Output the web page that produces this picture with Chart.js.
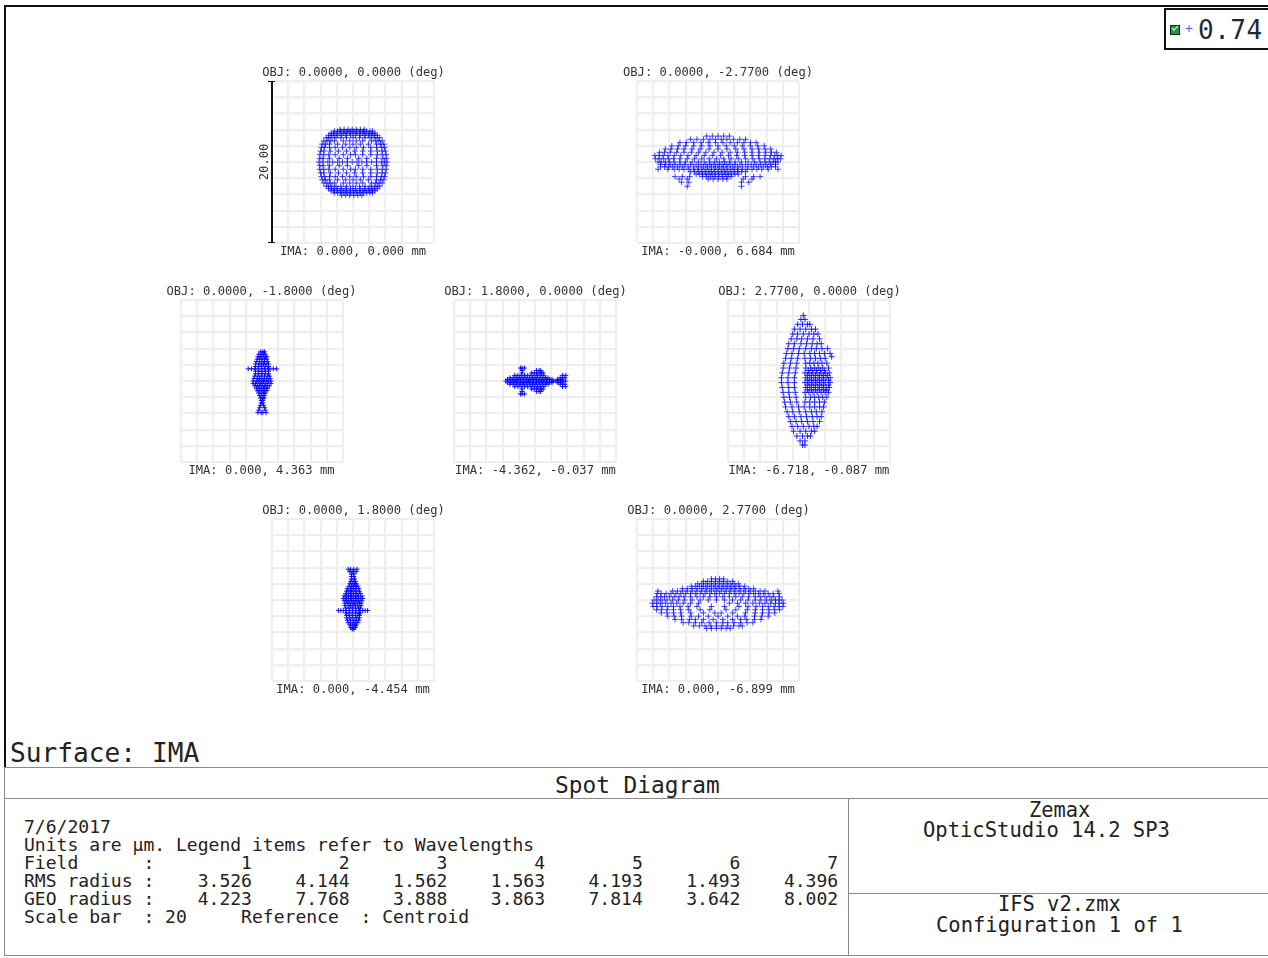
<!DOCTYPE html>
<html><head><meta charset="utf-8">
<script src="https://cdn.jsdelivr.net/npm/chart.js@4"></script>
<style>
html,body{margin:0;padding:0;background:#fff;width:1268px;height:958px;overflow:hidden}
body{position:relative;font-family:"DejaVu Sans Mono",monospace;color:#222}
canvas{position:absolute;filter:blur(.45px)}
.t{position:absolute;white-space:pre;line-height:.9}
.lab{font-size:12.15px;color:#333;transform:translateX(-50%)}
.ln{position:absolute;background:#8a8a8a}
.blk{position:absolute;background:#111}
</style></head><body>
<script>
// Hand-read estimates in micrometres, one row per y: [y, x, x, ...].
// Individual rays are not resolvable in the picture; rows follow each spot's outline and density.
const fieldTitles=["OBJ: 0.0000, 0.0000 (deg)","OBJ: 0.0000, -2.7700 (deg)","OBJ: 0.0000, -1.8000 (deg)","OBJ: 1.8000, 0.0000 (deg)","OBJ: 2.7700, 0.0000 (deg)","OBJ: 0.0000, 1.8000 (deg)","OBJ: 0.0000, 2.7700 (deg)"];
const imageLabels=["IMA: 0.000, 0.000 mm","IMA: -0.000, 6.684 mm","IMA: 0.000, 4.363 mm","IMA: -4.362, -0.037 mm","IMA: -6.718, -0.087 mm","IMA: 0.000, -4.454 mm","IMA: 0.000, -6.899 mm"];
const fieldNumbers=[1,2,3,4,5,6,7];
const rmsRadius=["3.526","4.144","1.562","1.563","4.193","1.493","4.396"];
const geoRadius=["4.223","7.768","3.888","3.863","7.814","3.642","8.002"];

const spot1=[
[4.0,-1.6,-1.1,-.6,-.1,.4,.9,1.4],
[3.8,-2.3,-1.9,-1.5,-1.1,-.7,-.3,.1,.5,.9,1.3,1.7,2.1,2.4],
[3.55,-2.7,-2.4,-2,-1.6,-1.2,-.8,-.4,0,.4,.8,1.2,1.6,2,2.4,2.7],
[3.3,-3,-2.7,-2.3,-1.9,-1.4,-.9,-.3,.3,.9,1.4,1.9,2.3,2.7,3],
[3,-3.3,-3,-2.6,-2.1,-1.5,-.8,0,.8,1.5,2.1,2.6,3,3.3],
[2.6,-3.6,-3.2,-2.8,-2.3,-1.2,-.4,.4,1.2,2.3,2.8,3.2,3.6],
[2.2,-3.8,-3.4,-2.9,-1.9,-.9,0,.9,1.9,2.9,3.4,3.8],
[1.8,-3.9,-3.5,-2.9,-2.2,-1.3,-.4,.4,1.3,2.2,2.9,3.5,3.9],
[1.35,-4,-3.6,-2.8,-1.8,-.8,.2,1.2,2.2,3,3.6,4],
[.9,-4.1,-3.6,-3,-2.2,-1.2,-.3,.3,1.2,2.2,3,3.6,4.1],
[.45,-4.1,-3.7,-2.9,-1.7,-.7,.7,1.7,2.9,3.7,4.1],
[0,-4.2,-3.7,-3.1,-2.5,-1.9,-1.3,-.7,-.1,.5,1.1,1.7,2.3,2.9,3.5,3.9,4.2],
[-.45,-4.1,-3.7,-2.9,-1.7,-.7,.7,1.7,2.9,3.7,4.1],
[-.9,-4.1,-3.6,-3,-2.2,-1.2,-.3,.3,1.2,2.2,3,3.6,4.1],
[-1.35,-4,-3.6,-2.8,-1.8,-.8,.2,1.2,2.2,3,3.6,4],
[-1.8,-3.9,-3.5,-2.9,-2.2,-1.3,-.4,.4,1.3,2.2,2.9,3.5,3.9],
[-2.2,-3.8,-3.4,-2.9,-1.9,-.9,0,.9,1.9,2.9,3.4,3.8],
[-2.6,-3.6,-3.2,-2.8,-2.3,-1.2,-.4,.4,1.2,2.3,2.8,3.2,3.6],
[-3,-3.3,-3,-2.6,-2.1,-1.5,-.8,0,.8,1.5,2.1,2.6,3,3.3],
[-3.3,-3,-2.7,-2.3,-1.9,-1.4,-.9,-.3,.3,.9,1.4,1.9,2.3,2.7,3],
[-3.55,-2.7,-2.4,-2,-1.6,-1.2,-.8,-.4,0,.4,.8,1.2,1.6,2,2.4,2.7],
[-3.8,-2.3,-1.9,-1.5,-1.1,-.7,-.3,.1,.5,.9,1.3,1.7,2.1,2.4],
[-4.1,-1.4,-.9,-.4,.1,.6,1.1]];

const spot2=[
[3.2,-1.4,-.7,0,.7,1.4],
[2.8,-3.4,-2.6,-1.8,-1,-.3,.4,1.1,1.9,2.7,3.4],
[2.4,-4.7,-3.9,-3,-2.1,-1.2,-.3,.6,1.5,2.4,3.2,4,4.7],
[2,-5.7,-4.9,-4,-3,-2,-1,0,1,2,3,4,4.9,5.7],
[1.6,-6.5,-5.8,-5,-4.2,-3.2,-2.2,-1.1,0,1.1,2.2,3.2,4.2,5,5.8,6.5],
[1.2,-7.2,-6.6,-5.9,-5.1,-4.2,-3.3,-2.4,-1.5,-.5,.5,1.5,2.4,3.3,4.2,5.1,5.9,6.6,7.2],
[.8,-7.8,-7.3,-6.8,-6.2,-5.4,-4.6,-3.7,-2.7,-1.7,-.7,.3,1.3,2.3,3.3,4.2,5,5.8,6.5,7,7.4,7.8],
[.4,-7.7,-7.2,-6.7,-6.1,-5.5,-4.7,-3.8,-2.9,-2,-1.1,-.2,.7,1.6,2.5,3.4,4.3,5.1,5.8,6.4,6.9,7.3,7.7],
[0,-7.4,-7,-6.5,-6,-5.4,-4.7,-4,-3.2,-2.4,-1.7,-1,-.4,.2,.8,1.4,2.1,2.9,3.7,4.5,5.2,5.8,6.3,6.8,7.1,7.4],
[-.3,-7.1,-6.5,-5.9,-5.3,-4.7,-4.1,-3.4,-2.7,-2.1,-1.5,-1,-.5,0,.5,1,1.5,2.1,2.7,3.4,4.1,4.7,5.3,5.9,6.5,7.1],
[-.6,-7.1,-6.6,-6.1,-5.6,-5,-4.4,-3.7,-3,-2.4,-1.8,-1.3,-.8,-.3,.2,.7,1.2,1.8,2.4,3,3.7,4.4,5,5.6,6.1,6.6,7.1],
[-.9,-7.4,-6.2,-5.4,-4.8,-4.2,-3.6,-3,-2.5,-2,-1.5,-1,-.5,0,.5,1,1.5,2,2.5,3,3.6,4.2,4.8,5.4,6.2,7.4],
[-1.2,-3.4,-2.9,-2.4,-2,-1.6,-1.2,-.8,-.4,0,.4,.8,1.2,1.6,2,2.4,2.9,3.4],
[-1.5,-2.7,-2.3,-1.9,-1.5,-1.1,-.7,-.3,.1,.5,.9,1.3,1.7,2.1,2.5],
[-1.8,-5.3,-4.4,-3.5,-1.9,-1.4,-.9,-.4,.1,.6,1.1,1.6,3.4,4.4,5.2],
[-2.1,-4.8,-3.8,-1.2,-.6,0,.6,1.1,3.1,4.2],
[-2.5,-4.5,-3.6,2.9,3.8],
[-3,-3.8,2.9]];

const spot3=[
[3.6,-.2,.1,.3],[3.3,-.4,-.1,.2,.4],[3,-.5,-.2,.1,.4,.6],[2.7,-.6,-.3,0,.3,.6],[2.4,-.7,-.3,0,.3,.7],
[2.1,-.8,-.4,-.1,.2,.5,.8],[1.8,-.8,-.4,0,.4,.8],[1.5,-1.7,-1.3,-.9,-.5,-.1,.3,.7,1,1.4,1.8],
[1.2,-.8,-.4,0,.4,.8],[.9,-.8,-.4,0,.4,.8],[.6,-.9,-.5,-.1,.3,.7,.95],[.3,-1,-.6,-.3,0,.3,.6,1],
[0,-1.1,-.7,-.4,-.1,.2,.5,.8,1.1],[-.3,-1.1,-.8,-.5,-.2,.1,.4,.7,1.1],[-.6,-.9,-.6,-.3,0,.3,.6,.9],
[-.9,-.7,-.4,-.1,.2,.5,.7],[-1.2,-.6,-.3,0,.3,.6],[-1.5,-.4,-.1,.2,.4],[-1.8,-.3,0,.3],[-2.1,-.2,.1,.25],
[-2.4,-.1,.1],[-2.7,-.1,.1],[-3,-.2,.2],[-3.3,-.3,.3],[-3.6,-.4,.4],[-3.9,-.5,-.1,.1,.5]];

const spot4=[
[1.6,-1.8,-1.6,-1.3],
[1.3,-1.6,.2,.5,.7],
[1,-1.6,-.4,-.1,.2,.5,.8,1],
[.7,-2.5,-2.1,-1.7,-1.3,-.9,-.5,-.1,.3,.7,1.1,3.4,3.8],
[.4,-3.1,-2.7,-2.3,-1.9,-1.5,-1.1,-.7,-.3,.1,.5,.9,1.3,1.6,3.1,3.4,3.7],
[.2,-3.4,-3,-2.6,-2.2,-1.8,-1.4,-1,-.6,-.2,.2,.6,1,1.4,1.8,2.1,2.8,3.2],
[0,-3.6,-3.2,-2.8,-2.4,-2,-1.6,-1.2,-.8,-.4,0,.4,.8,1.2,1.6,2,2.3,2.6,2.9,3.2,3.5,3.8],
[-.2,-3.4,-3,-2.6,-2.2,-1.8,-1.4,-1,-.6,-.2,.2,.6,1,1.4,1.8,2.1,2.8,3.2],
[-.4,-3.1,-2.7,-2.3,-1.9,-1.5,-1.1,-.7,-.3,.1,.5,.9,1.3,1.6,3.1,3.4,3.7],
[-.7,-2.5,-2.1,-1.7,-1.3,-.9,-.5,-.1,.3,.7,1.1,3.4,3.8],
[-1,-1.6,-.4,-.1,.2,.5,.8,1],
[-1.3,-1.6,.2,.5,.7],
[-1.6,-1.8,-1.6,-1.3]];

const spot5=[
[8.1,-.7],[7.6,-1,-.5],[7,-1.4,-.8,-.2,.1],[6.4,-1.8,-1.1,-.4,.3,.8],[5.8,-2,-1.4,-.7,0,.6,1.1],
[5.2,-2.2,-1.5,-.9,-.2,.5,1.3],[4.6,-2.5,-1.8,-1,-.3,.4,1,1.5],[4,-2.6,-1.9,-1.2,-.4,.3,.9,1.6,2.3],
[3.4,-2.8,-2.1,-1.3,-.6,.1,.7,1.3,1.9,2.6],[3,2.8],[2.8,-2.9,-2.2,-1.4,-.5,.2,.8,1.4,2],
[2.2,-3.1,-2.3,-1.5,-.4,.1,.6,1.1,1.6,2.2],[1.6,-3.2,-2.4,-1.6,-.4,.2,.7,1.2,1.7,2.4],[1.3,-.1,.4,.9,1.4,1.9],
[1,-3.3,-2.5,-1.7,-.5,0,.5,1,1.5,2,2.5],[.7,-.2,.3,.8,1.3,1.8,2.3],[.4,-3.4,-2.6,-1.8,-.4,.1,.6,1.1,1.6,2.1,2.6],
[.1,-.2,.3,.8,1.3,1.8,2.4],[-.2,-3.4,-2.6,-1.8,-.5,0,.5,1,1.5,2,2.6],[-.5,-.2,.3,.8,1.3,1.8,2.4],
[-.8,-3.3,-2.5,-1.8,-.4,.1,.6,1.1,1.6,2.1,2.5],[-1.1,-.2,.3,.8,1.3,1.8,2.2],[-1.4,-3.2,-2.5,-1.7,-.5,0,.5,1,1.5,2,2.4],
[-2,-3.1,-2.4,-1.6,-.4,.2,.7,1.2,1.7,2.2],[-2.6,-3,-2.3,-1.5,-.5,.1,.7,1.3,1.9],[-3.2,-2.9,-2.1,-1.3,-.6,.1,.7,1.3,1.8],
[-3.8,-2.7,-2,-1.2,-.4,.3,.9,1.6],[-4.4,-2.5,-1.8,-1,-.3,.4,1,1.5],[-5,-2.3,-1.6,-.9,-.2,.5,1.3],
[-5.6,-2.1,-1.4,-.7,0,.6,1],[-6.2,-1.9,-1.1,-.4,.3,.7],[-6.8,-1.5,-.8,-.2,.2],[-7.4,-1.1,-.5],[-7.9,-.8,-.5]];

const spot6=[
[3.8,-.6,-.3,.1,.5],[3.5,-.4,-.1,.1,.4],[3.2,-.2,.1],[2.9,-.2,.1],[2.6,-.2,.2],[2.3,-.3,0,.3],[2,-.4,-.1,.2,.4],
[1.7,-.5,-.2,.1,.4,.6],[1.4,-.7,-.3,0,.3,.7],[1.1,-.8,-.5,-.2,.1,.4,.8],[.8,-.9,-.6,-.3,0,.3,.6,.9],
[.5,-1.1,-.8,-.5,-.2,.1,.4,.7,1.1],[.2,-1.2,-.9,-.6,-.3,0,.3,.6,.9,1.2],[-.1,-1.1,-.8,-.5,-.2,.1,.4,.7,1.1],
[-.4,-1,-.7,-.4,-.1,.2,.5,.8,1],[-.7,-1,-.6,-.3,0,.3,.6,1],[-1,-.9,-.5,-.1,.3,.7,.9],
[-1.3,-1.8,-1.5,-1.2,-.8,-.4,0,.4,.8,1.2,1.5,1.8],[-1.6,-.9,-.5,-.1,.3,.7,.9],[-1.9,-.8,-.5,-.1,.3,.6,.8],
[-2.2,-.8,-.4,0,.4,.8],[-2.5,-.7,-.3,.1,.4,.7],[-2.8,-.6,-.3,0,.3,.6],[-3.1,-.4,-.1,.2,.4],[-3.4,-.3,0,.3],[-3.6,-.1,.1]];

const spot7=[
[2.6,-.8,-.3,.2,.7],
[2.3,-1.8,-1.3,-.8,-.3,.2,.7,1.2,1.8],
[2,-2.5,-2,-1.5,-1,-.5,0,.5,1,1.5,2,2.5],
[1.7,-3.3,-2.8,-2.3,-1.8,-1.3,-.8,-.3,.2,.7,1.2,1.7,2.2,2.7,3.3],
[1.4,-4.4,-3.8,-3.2,-2.6,-2,-1.5,-1,-.5,0,.5,1,1.5,2,2.6,3.2,3.8,4.4],
[1.1,-7.4,-5.6,-5,-4.4,-3.8,-3.2,-2.6,-2,-1.4,-.8,-.2,.4,1,1.6,2.2,2.8,3.4,4,4.6,5.2,5.8,7.4],
[.8,-7.5,-7,-6.4,-5.8,-5.2,-4.6,-4,-3.4,-2.8,-2.2,-1.6,-1,-.4,.2,.8,1.4,2,2.6,3.2,3.8,4.4,5,5.6,6.2,6.8,7.5],
[.4,-7.6,-7.1,-6.6,-6,-5.4,-4.8,-4.2,-3.4,-2.6,-1.8,-1,-.2,.6,1.4,2.2,3,3.8,4.6,5.2,5.8,6.4,6.9,7.6],
[0,-7.9,-7.4,-6.9,-6.3,-5.6,-4.9,-4.1,-3.2,-2.2,-1.2,-.2,.8,1.8,2.8,3.7,4.6,5.3,6,6.6,7.1,7.5,7.9],
[-.4,-8.1,-7.6,-7.1,-6.5,-5.8,-5.1,-4.3,-3.4,-2.4,1.4,2.4,3.4,4.3,5.1,5.8,6.5,7.1,7.6,8.1],
[-.8,-8,-7.5,-6.9,-6.2,-5.5,-4.7,-3.7,-2.6,-.8,.8,2.6,3.7,4.7,5.5,6.2,6.9,7.5,8],
[-1.2,-7.6,-7,-6.3,-5.5,-4.6,-3.6,-2.2,-1,1,2.2,3.6,4.6,5.5,6.3,7,7.6],
[-1.6,-7,-6.3,-5.5,-4.6,-3.4,-1.8,-.4,.4,1.8,3.4,4.6,5.5,6.3,7],
[-2,-6.2,-5.4,-4.5,-3.3,-2.4,-1.2,0,1.2,2.4,3.3,4.5,5.4,6.2],
[-2.4,-5.3,-4.5,-3.5,-2.8,-1.8,-.6,.6,1.8,2.8,3.5,4.5,5.3],
[-2.8,-4.3,-3.6,-2.8,-2,-1.1,-.2,.6,1.2,2,2.8,3.6,4.3],
[-3.2,-3,-2.3,-1.6,-.9,-.2,.5,1.2,1.9,2.6,3],
[-3.5,-1.4,-.8,-.2,.4,1,1.5]];

const spots=[spot1,spot2,spot3,spot4,spot5,spot6,spot7];
const panelBoxes=[[272,81],[637,81],[181,300],[454,300],[728,300],[272,519],[637,519]];
const labelCentres=[[353.5,353],[718,718],[261.5,261.5],[535.5,535.5],[809.5,809],[353.5,353],[718.5,718]];
const crossSize=[3,3,2.5,2.5,3,2.5,3];
const crossAlpha=[.75,.72,.9,.9,.85,.9,.72];

const add=(tag,cls,css,txt)=>{const e=document.createElement(tag);e.className=cls;e.style.cssText=css;if(txt!=null)e.textContent=txt;document.body.appendChild(e);return e};
const T=(x,cy,size,txt,extra='')=>add('div','t',`left:${x}px;top:${cy-size*.45}px;font-size:${size}px;${extra}`,txt);

spots.forEach((rows,i)=>{
  const [l,t]=panelBoxes[i];
  const c=document.createElement('canvas');
  c.width=164;c.height=164;c.style.cssText=`left:${l-1}px;top:${t-1}px;width:164px;height:164px`;
  document.body.appendChild(c);
  const data=[];
  rows.forEach(r=>{for(let k=1;k<r.length;k++)data.push({x:r[k],y:r[0]})});
  const ax={type:'linear',min:-10,max:10,ticks:{display:false,stepSize:2},border:{display:false},grid:{color:'#eeeeee',lineWidth:2.2,drawTicks:false}};
  const col=`rgba(0,0,255,${crossAlpha[i]})`;
  new Chart(c,{type:'scatter',data:{datasets:[{data,pointStyle:'cross',pointRadius:crossSize[i],pointBorderWidth:1,pointBorderColor:col,pointBackgroundColor:col,clip:false}]},
    options:{responsive:false,animation:false,layout:{padding:1,autoPadding:false},plugins:{legend:{display:false},tooltip:{enabled:false}},scales:{x:ax,y:{...ax}}}});
  add('div','t lab',`left:${labelCentres[i][0]}px;top:${t-14}px`,fieldTitles[i]);
  add('div','t lab',`left:${labelCentres[i][1]}px;top:${t+165}px`,imageLabels[i]);
});

// scale bar on first panel
add('div','blk','left:271px;top:81px;width:2px;height:162px');
add('div','blk','left:268px;top:81px;width:7px;height:1px');
add('div','blk','left:268px;top:242px;width:7px;height:1px');
add('div','t',"left:264px;top:162px;font-size:12.15px;color:#333;transform:translate(-50%,-50%) rotate(-90deg)",'20.00');

// frame
add('div','blk','left:4px;top:5px;width:1264px;height:2px');
add('div','blk','left:4px;top:5px;width:2px;height:762px');
add('div','ln','left:4px;top:767px;width:1264px;height:1px');
add('div','ln','left:4px;top:767px;width:1px;height:188px');
add('div','ln','left:4px;top:798px;width:1264px;height:1px');
add('div','ln','left:848px;top:798px;width:1px;height:157px');
add('div','ln','left:848px;top:893px;width:420px;height:1px');
add('div','ln','left:4px;top:955px;width:1264px;height:1px');

// legend box
add('div','','position:absolute;left:1164px;top:8px;width:104px;height:38px;border:2px solid #111;border-right:none;background:#fff');
add('div','','position:absolute;left:1170px;top:25px;width:8px;height:8px;border:1px solid #123;background:#1f9a3f');
add('div','','position:absolute;left:1172px;top:26px;width:5px;height:2px;border-left:1px solid #fff;border-bottom:1px solid #fff;transform:rotate(-45deg)');
T(1185,29,13,'+','color:#5a5aee');
T(1198,31,26,'0.74','letter-spacing:.5px;color:#1a2a3a');

// text
T(10,754,26.2,'Surface: IMA');
T(555,785,22.8,'Spot Diagram');
const pad=(s,n)=>s.padStart(n);
const rowText=(a)=>a.map((v,i)=>pad(String(v),i?9:5)).join('');
const lines=['7/6/2017','Units are µm. Legend items refer to Wavelengths',
 'Field      :   '+pad(String(fieldNumbers[0]),6)+fieldNumbers.slice(1).map(v=>pad(String(v),9)).join(''),
 'RMS radius :    '+rowText(rmsRadius),
 'GEO radius :    '+rowText(geoRadius),
 'Scale bar  : 20     Reference  : Centroid'];
lines.forEach((s,i)=>T(24,827+i*18,18.05,s));
T(1029,810,20.4,'Zemax');
T(923,830,20.5,'OpticStudio 14.2 SP3');
T(998,904,20.4,'IFS v2.zmx');
T(936,925,20.5,'Configuration 1 of 1');
</script>
</body></html>
